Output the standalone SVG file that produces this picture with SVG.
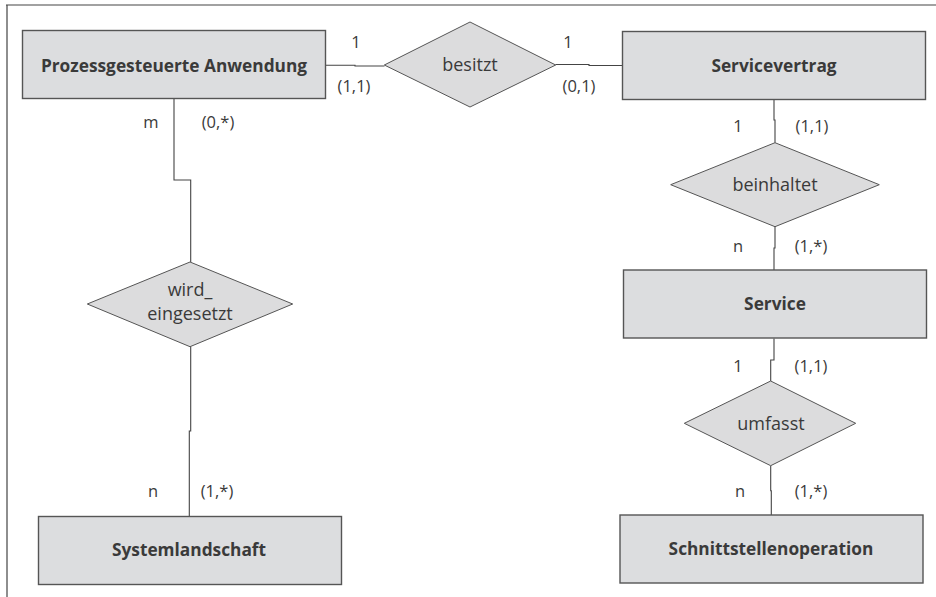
<svg xmlns="http://www.w3.org/2000/svg" width="936" height="597" viewBox="0 0 936 597">
  <style>
    .entity { fill: #dcdddf; stroke: #555; stroke-width: 1.4; }
    .rel { fill: #dcdcdd; stroke: #555; stroke-width: 1; }
    .edge { fill: none; stroke: #444; stroke-width: 1.1; }
    .frame { fill: none; stroke: #444; stroke-width: 1.2; }
    text { font-family: "Open Sans", "Noto Sans", "Liberation Sans", sans-serif; fill: #3a3a3a; }
    .ename { font-size: 17.3px; font-weight: bold; text-anchor: middle; }
    .rname { font-size: 18px; text-anchor: middle; }
    .card { font-size: 16.5px; text-anchor: middle; }
  </style>

  <!-- frame -->
  <path class="frame" d="M6,5 H936 M7,5 V597"/>

  <!-- connectors -->
  <g id="connectors">
    <path class="edge" d="M325.7,65.3 H355 V66 H384.5"/>
    <path class="edge" d="M555.5,64.5 H589 V65.5 H622.5"/>
    <path class="edge" d="M774,99.5 V120 H775 V142.7"/>
    <path class="edge" d="M775,226.7 V248 H774 V270"/>
    <path class="edge" d="M774,338.5 V360 H770.7 V381"/>
    <path class="edge" d="M770.7,465.7 V490.7 H771.3 V515"/>
    <path class="edge" d="M174,98.5 V180 H190.7 V262"/>
    <path class="edge" d="M190.7,346.7 V431 H189.3 V516.5"/>
  </g>

  <!-- entities -->
  <g id="prozessgesteuerte-anwendung">
    <rect class="entity" x="22.5" y="30.5" width="303" height="68"/>
    <text class="ename" x="174" y="72">Prozessgesteuerte Anwendung</text>
  </g>
  <g id="servicevertrag">
    <rect class="entity" x="622.5" y="31.5" width="303" height="68"/>
    <text class="ename" x="774" y="72">Servicevertrag</text>
  </g>
  <g id="service">
    <rect class="entity" x="623.5" y="270" width="303" height="68"/>
    <text class="ename" x="775" y="310">Service</text>
  </g>
  <g id="systemlandschaft">
    <rect class="entity" x="38.5" y="516.5" width="303" height="68"/>
    <text class="ename" x="189" y="556">Systemlandschaft</text>
  </g>
  <g id="schnittstellenoperation">
    <rect class="entity" x="620" y="515" width="303" height="68"/>
    <text class="ename" x="771" y="555">Schnittstellenoperation</text>
  </g>

  <!-- relationships -->
  <g id="besitzt">
    <polygon class="rel" points="470,22 555.7,65 470,107 384.3,65"/>
    <text class="rname" x="470" y="71">besitzt</text>
  </g>
  <g id="beinhaltet">
    <polygon class="rel" points="775,142.7 879.3,184.7 775,226.7 670.7,184.7"/>
    <text class="rname" x="775" y="190.5">beinhaltet</text>
  </g>
  <g id="umfasst">
    <polygon class="rel" points="770.7,381 855.7,423.3 770.7,465.7 684.3,423.3"/>
    <text class="rname" x="771" y="430">umfasst</text>
  </g>
  <g id="wird-eingesetzt">
    <polygon class="rel" points="190,262 292.7,304 190,346.7 87.3,304"/>
    <text class="rname" x="190" y="296">wird_</text>
    <text class="rname" x="190" y="320">eingesetzt</text>
  </g>

  <!-- cardinalities -->
  <g id="cardinalities">
    <text class="card" x="356" y="48">1</text>
    <text class="card" x="354" y="92">(1,1)</text>
    <text class="card" x="568" y="48">1</text>
    <text class="card" x="579" y="92">(0,1)</text>

    <text class="card" x="151" y="128">m</text>
    <text class="card" x="218" y="128">(0,*)</text>
    <text class="card" x="153" y="497">n</text>
    <text class="card" x="217" y="497">(1,*)</text>

    <text class="card" x="738" y="132">1</text>
    <text class="card" x="812" y="132">(1,1)</text>
    <text class="card" x="738" y="252">n</text>
    <text class="card" x="811" y="252">(1,*)</text>
    <text class="card" x="738" y="372">1</text>
    <text class="card" x="811" y="372">(1,1)</text>
    <text class="card" x="740" y="497">n</text>
    <text class="card" x="811" y="497">(1,*)</text>
  </g>
</svg>
